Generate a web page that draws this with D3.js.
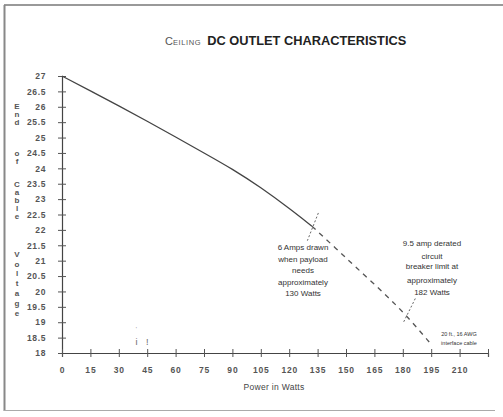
<!DOCTYPE html>
<html>
<head>
<meta charset="utf-8">
<script src="https://cdn.jsdelivr.net/npm/d3@7"></script>
<style>
  body { margin: 0; background: #fff; }
  svg { font-family: "Liberation Sans", Arial, sans-serif; }
</style>
</head>
<body>
<div id="chart"></div>
<script>
// data
var solidWatts = [0, 15, 30, 45, 60, 75, 90, 105, 120, 132];
var solidVolts = [27, 26.52, 26.03, 25.53, 25.02, 24.5, 23.98, 23.38, 22.7, 22.12];
var dashWatts = [132, 145, 155, 170, 182, 195];
var dashVolts = [22.12, 21.38, 20.8, 19.95, 19.22, 18.28];

var xTicks = [0, 15, 30, 45, 60, 75, 90, 105, 120, 135, 150, 165, 180, 195, 210, 225];
var xLabels = ["0", "15", "30", "45", "60", "75", "90", "105", "120", "135", "150", "165", "180", "195", "210", ""];
var yTicks = [18, 18.5, 19, 19.5, 20, 20.5, 21, 21.5, 22, 22.5, 23, 23.5, 24, 24.5, 25, 25.5, 26, 26.5, 27];

var yWords = ["End", "of", "Cable", "Voltage"];
var note1 = ["6 Amps drawn", "when payload", "needs", "approximately", "130 Watts"];
var note2 = ["9.5 amp derated", "circuit", "breaker limit at", "approximately", "182 Watts"];
var note3 = ["20 ft., 16 AWG", "interface cable"];

var width = 503;
var height = 417;

var x = d3.scaleLinear().domain([0, 225]).range([62, 488]);
var y = d3.scaleLinear().domain([18, 27]).range([353, 76]);

var svg = d3.select("#chart").append("svg")
  .attr("width", width)
  .attr("height", height);

// page frame (top, left, bottom edges of the scanned page)
svg.append("line").attr("x1", 4).attr("x2", 503).attr("y1", 5).attr("y2", 5)
  .attr("stroke", "#777").attr("stroke-width", 1.6);
svg.append("line").attr("x1", 4.5).attr("x2", 4.5).attr("y1", 5).attr("y2", 411)
  .attr("stroke", "#888").attr("stroke-width", 2);
svg.append("line").attr("x1", 4).attr("x2", 495).attr("y1", 410.5).attr("y2", 410.5)
  .attr("stroke", "#aaa").attr("stroke-width", 1);

// title
var title = svg.append("text")
  .attr("x", 165)
  .attr("y", 45)
  .attr("fill", "#222");
title.append("tspan").attr("font-size", 11).attr("fill", "#555").text("C");
title.append("tspan").attr("font-size", 7.5).attr("fill", "#555").attr("letter-spacing", 0.6).text("EILING");
title.append("tspan").attr("font-size", 12.8).attr("font-weight", "bold").attr("dx", 6).text("DC OUTLET CHARACTERISTICS");

// y axis
var yAxis = svg.append("g")
  .attr("transform", "translate(" + x(0) + ",0)")
  .call(d3.axisLeft(y).tickValues(yTicks).tickFormat(d3.format("")).tickSize(4).tickPadding(12));
yAxis.select(".domain").attr("stroke", "#444").attr("stroke-width", 1.2);
yAxis.selectAll(".tick line").attr("x1", -4).attr("x2", 4).attr("stroke", "#555");
yAxis.selectAll(".tick text")
  .attr("font-size", 8.5)
  .attr("font-weight", "bold")
  .attr("letter-spacing", 0.6)
  .attr("fill", "#555");

// x axis
var xAxis = svg.append("g")
  .attr("transform", "translate(0," + y(18) + ")")
  .call(d3.axisBottom(x).tickValues(xTicks)
    .tickFormat(function(d, i) { return xLabels[i]; })
    .tickSize(4).tickPadding(10));
xAxis.select(".domain").attr("stroke", "#444").attr("stroke-width", 1.2);
xAxis.selectAll(".tick line").attr("y1", -4).attr("y2", 4).attr("stroke", "#555");
xAxis.selectAll(".tick text")
  .attr("font-size", 8.5)
  .attr("font-weight", "bold")
  .attr("letter-spacing", 0.8)
  .attr("fill", "#555");

svg.append("text")
  .attr("x", x(112))
  .attr("y", 390)
  .attr("text-anchor", "middle")
  .attr("font-size", 8.5)
  .attr("letter-spacing", 0.3)
  .attr("fill", "#444")
  .text("Power in Watts");

// vertical y label, one letter per line
var letterY = [[106, 114, 122], [153, 161], [184, 192, 200, 208, 216], [254, 264, 273, 283, 293, 303, 313]];
yWords.forEach(function(w, wi) {
  w.split("").forEach(function(ch, ci) {
    svg.append("text")
      .attr("x", 17)
      .attr("y", letterY[wi][ci] + 3)
      .attr("text-anchor", "middle")
      .attr("font-size", 8)
      .attr("font-weight", "bold")
      .attr("fill", "#555")
      .text(ch);
  });
});

// curves
var solid = solidWatts.map(function(w, i) { return [w, solidVolts[i]]; });
var dashed = dashWatts.map(function(w, i) { return [w, dashVolts[i]]; });

var line = d3.line()
  .x(function(d) { return x(d[0]); })
  .y(function(d) { return y(d[1]); })
  .curve(d3.curveBasis);

svg.append("path")
  .datum(solid)
  .attr("d", line)
  .attr("fill", "none")
  .attr("stroke", "#444")
  .attr("stroke-width", 1.3);

svg.append("path")
  .datum(dashed)
  .attr("d", line)
  .attr("fill", "none")
  .attr("stroke", "#555")
  .attr("stroke-width", 1.3)
  .attr("stroke-dasharray", "5,5");

// dotted marker lines across the curve
var markers = [[[135.4, 22.55], [129.6, 21.65]], [[186.6, 19.77], [180.3, 18.99]]];
markers.forEach(function(m) {
  svg.append("line")
    .attr("x1", x(m[0][0])).attr("y1", y(m[0][1]))
    .attr("x2", x(m[1][0])).attr("y2", y(m[1][1]))
    .attr("stroke", "#666")
    .attr("stroke-width", 1)
    .attr("stroke-dasharray", "2,2");
});

// annotations
function note(lines, cx, ys, size, anchor) {
  lines.forEach(function(t, i) {
    svg.append("text")
      .attr("x", cx)
      .attr("y", ys[i])
      .attr("text-anchor", anchor)
      .attr("font-size", size)
      .attr("fill", "#333")
      .text(t);
  });
}
note(note1, 303, [250, 262, 273, 285, 296], 8, "middle");
note(note2, 432, [246, 259, 269, 283, 295], 8, "middle");
note(note3, 459, [336, 345], 5.5, "middle");

// stray pen marks near 40 W
svg.append("text").attr("x", x(39.3)).attr("y", y(18.25)).attr("text-anchor", "middle")
  .attr("font-size", 9).attr("fill", "#666").text("i");
svg.append("text").attr("x", x(39.3)).attr("y", y(18.72)).attr("text-anchor", "middle")
  .attr("font-size", 6).attr("fill", "#888").text("'");
svg.append("text").attr("x", x(45)).attr("y", y(18.25)).attr("text-anchor", "middle")
  .attr("font-size", 9).attr("fill", "#666").text("!");
</script>
</body>
</html>
